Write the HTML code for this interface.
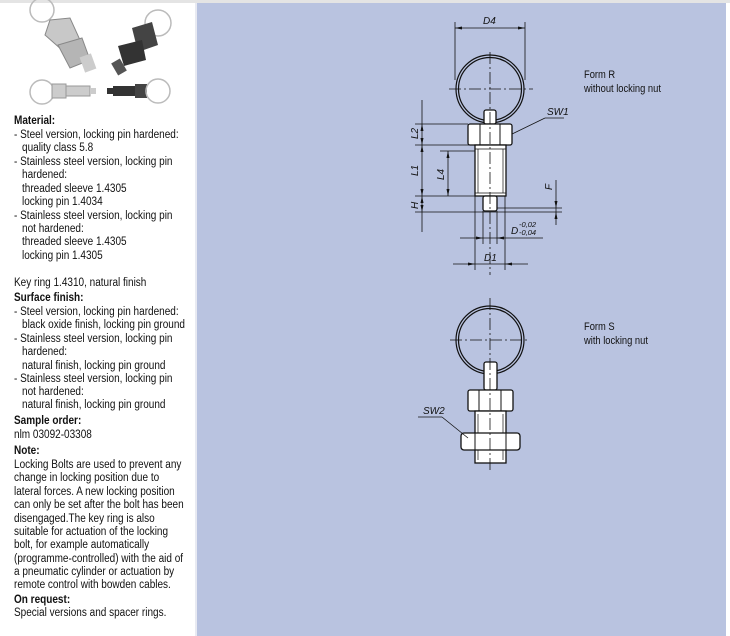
<!DOCTYPE html>
<html><head><meta charset="utf-8"><style>
body{margin:0;width:730px;height:636px;background:#fff;position:relative;overflow:hidden;font-family:"Liberation Sans",sans-serif;}
#top{position:absolute;left:0;top:0;width:730px;height:3px;background:#e4e4e4}
#blue{position:absolute;left:197px;top:3px;width:529px;height:633px;background:#b9c3e0}
#sep{position:absolute;left:195px;top:3px;width:2px;height:633px;background:#e8eaf2}
.t{position:absolute;left:14px;font-size:11.5px;line-height:13px;color:#111;white-space:nowrap;transform:scaleX(0.87);transform-origin:0 0;margin-top:2px}
.b{font-weight:bold}
.i{left:22px}
.r{position:absolute;font-size:11px;color:#111;white-space:nowrap;transform:scaleX(0.85);transform-origin:0 0;line-height:13px}
</style></head><body>
<div id="top"></div><div id="blue"></div><div id="sep"></div>
<svg width="197" height="115" style="position:absolute;left:0;top:0">
<circle cx="42" cy="10" r="12" fill="none" stroke="#bbb" stroke-width="1.5"/>
<polygon points="50,20 70,18 80,40 62,50 45,35" fill="#c8c8c8" stroke="#888"/>
<polygon points="58,45 82,38 90,60 70,68" fill="#b5b5b5" stroke="#888"/>
<rect x="82" y="55" width="12" height="16" fill="#ccc" transform="rotate(-20 88 63)"/>
<circle cx="158" cy="23" r="13" fill="none" stroke="#bbb" stroke-width="1.5"/>
<polygon points="132,28 152,22 158,45 138,52" fill="#444"/>
<polygon points="118,46 142,40 146,60 124,66" fill="#333"/>
<rect x="114" y="60" width="10" height="14" fill="#555" transform="rotate(-30 119 67)"/>
<circle cx="42" cy="92" r="12" fill="none" stroke="#bbb" stroke-width="1.5"/>
<rect x="52" y="84" width="14" height="14" fill="#ccc" stroke="#999"/>
<rect x="66" y="86" width="24" height="10" fill="#ccc" stroke="#999"/>
<rect x="90" y="88" width="6" height="6" fill="#ccc"/>
<rect x="107" y="88" width="6" height="6" fill="#333"/>
<rect x="113" y="86" width="22" height="10" fill="#333"/>
<rect x="135" y="84" width="12" height="14" fill="#444"/>
<circle cx="158" cy="91" r="12" fill="none" stroke="#bbb" stroke-width="1.5"/>
</svg>
<div class="t b" style="top:113px">Material:</div>
<div class="t" style="top:127px">- Steel version, locking pin hardened:</div>
<div class="t i" style="top:140px">quality class 5.8</div>
<div class="t" style="top:154px">- Stainless steel version, locking pin</div>
<div class="t i" style="top:167px">hardened:</div>
<div class="t i" style="top:181px">threaded sleeve 1.4305</div>
<div class="t i" style="top:194px">locking pin 1.4034</div>
<div class="t" style="top:208px">- Stainless steel version, locking pin</div>
<div class="t i" style="top:221px">not hardened:</div>
<div class="t i" style="top:234px">threaded sleeve 1.4305</div>
<div class="t i" style="top:248px">locking pin 1.4305</div>
<div class="t" style="top:275px">Key ring 1.4310, natural finish</div>
<div class="t b" style="top:290px">Surface finish:</div>
<div class="t" style="top:304px">- Steel version, locking pin hardened:</div>
<div class="t i" style="top:317px">black oxide finish, locking pin ground</div>
<div class="t" style="top:331px">- Stainless steel version, locking pin</div>
<div class="t i" style="top:344px">hardened:</div>
<div class="t i" style="top:358px">natural finish, locking pin ground</div>
<div class="t" style="top:371px">- Stainless steel version, locking pin</div>
<div class="t i" style="top:384px">not hardened:</div>
<div class="t i" style="top:397px">natural finish, locking pin ground</div>
<div class="t b" style="top:413px">Sample order:</div>
<div class="t" style="top:427px">nlm 03092-03308</div>
<div class="t b" style="top:443px">Note:</div>
<div class="t" style="top:457px">Locking Bolts are used to prevent any</div>
<div class="t" style="top:470px">change in locking position due to</div>
<div class="t" style="top:484px">lateral forces. A new locking position</div>
<div class="t" style="top:497px">can only be set after the bolt has been</div>
<div class="t" style="top:511px">disengaged.The key ring is also</div>
<div class="t" style="top:524px">suitable for actuation of the locking</div>
<div class="t" style="top:537px">bolt, for example automatically</div>
<div class="t" style="top:551px">(programme-controlled) with the aid of</div>
<div class="t" style="top:564px">a pneumatic cylinder or actuation by</div>
<div class="t" style="top:577px">remote control with bowden cables.</div>
<div class="t b" style="top:592px">On request:</div>
<div class="t" style="top:605px">Special versions and spacer rings.</div>

<div class="r" style="left:584px;top:69px">Form R</div>
<div class="r" style="left:584px;top:83px">without locking nut</div>
<div class="r" style="left:584px;top:321px">Form S</div>
<div class="r" style="left:584px;top:335px">with locking nut</div>

<svg width="730" height="636" style="position:absolute;left:0;top:0" fill="none" stroke="#111" stroke-width="1">
<g stroke-width="0.8">
<line x1="455" y1="22" x2="455" y2="80"/><line x1="525" y1="22" x2="525" y2="80"/>
<line x1="455" y1="28" x2="525" y2="28"/>
<line x1="422" y1="100" x2="422" y2="232"/>
<line x1="415" y1="124" x2="468" y2="124"/><line x1="415" y1="145" x2="475" y2="145"/>
<line x1="440" y1="151" x2="475" y2="151"/><line x1="448" y1="151" x2="448" y2="196"/>
<line x1="415" y1="196" x2="475" y2="196"/><line x1="415" y1="212" x2="562" y2="212"/>
<line x1="483" y1="208" x2="562" y2="208"/>
<line x1="556" y1="180" x2="556" y2="225"/>
<line x1="483" y1="211" x2="483" y2="244"/><line x1="497" y1="211" x2="497" y2="244"/>
<line x1="460" y1="238" x2="543" y2="238"/>
<line x1="475" y1="196" x2="475" y2="270"/><line x1="505" y1="196" x2="505" y2="270"/>
<line x1="453" y1="264" x2="528" y2="264"/>
<line x1="510" y1="135" x2="545" y2="118"/><line x1="545" y1="118" x2="564" y2="118"/>
<line x1="449" y1="89" x2="533" y2="89" stroke-dasharray="12 3 2 3"/>
<line x1="450" y1="340" x2="530" y2="340" stroke-dasharray="12 3 2 3"/>
<line x1="418" y1="417" x2="442" y2="417"/>
</g>
<g fill="#111" stroke="none">
<polygon points="455,28 462,26.5 462,29.5"/><polygon points="525,28 518,26.5 518,29.5"/>
<polygon points="422,124 420.5,131 423.5,131"/><polygon points="422,145 420.5,138 423.5,138"/>
<polygon points="422,145 420.5,152 423.5,152"/><polygon points="422,196 420.5,189 423.5,189"/>
<polygon points="422,196 420.5,203 423.5,203"/><polygon points="422,212 420.5,205 423.5,205"/>
<polygon points="448,151 446.5,158 449.5,158"/><polygon points="448,196 446.5,189 449.5,189"/>
<polygon points="556,208 554.5,201 557.5,201"/><polygon points="556,212 554.5,219 557.5,219"/>
<polygon points="483,238 476,236.5 476,239.5"/><polygon points="497,238 504,236.5 504,239.5"/>
<polygon points="475,264 468,262.5 468,265.5"/><polygon points="505,264 512,262.5 512,265.5"/>
</g>
<circle cx="490" cy="89" r="34" stroke-width="1.2"/><circle cx="490" cy="89" r="31.5" stroke-width="1.2"/>
<rect x="484" y="110" width="12" height="14" rx="2" fill="#fff" stroke-width="1.3"/>
<rect x="468" y="124" width="44" height="21" rx="2" fill="#fff" stroke-width="1.3"/>
<line x1="480" y1="124" x2="480" y2="145"/><line x1="500" y1="124" x2="500" y2="145"/>
<rect x="475" y="145" width="31" height="51" fill="#fff" stroke-width="1.3"/>
<line x1="478" y1="149" x2="478" y2="193" stroke-width="0.7"/><line x1="503" y1="149" x2="503" y2="193" stroke-width="0.7"/>
<line x1="475" y1="149" x2="506" y2="149" stroke-width="0.7"/><line x1="475" y1="193" x2="506" y2="193" stroke-width="0.7"/>
<rect x="483" y="196" width="14" height="15" rx="2" fill="#fff" stroke-width="1.3"/>
<line x1="490" y1="52" x2="490" y2="275" stroke-width="0.8" stroke-dasharray="12 3 2 3"/>
<circle cx="490" cy="340" r="34" stroke-width="1.2"/><circle cx="490" cy="340" r="31.5" stroke-width="1.2"/>
<rect x="484" y="362" width="13" height="28" rx="2" fill="#fff" stroke-width="1.3"/>
<rect x="468" y="390" width="45" height="21" rx="2" fill="#fff" stroke-width="1.3"/>
<line x1="479" y1="390" x2="479" y2="411"/><line x1="501" y1="390" x2="501" y2="411"/>
<rect x="475" y="411" width="31" height="52" fill="#fff" stroke-width="1.3"/>
<line x1="478" y1="414" x2="478" y2="460" stroke-width="0.7"/><line x1="503" y1="414" x2="503" y2="460" stroke-width="0.7"/>
<rect x="461" y="433" width="59" height="17" rx="3" fill="#fff" stroke-width="1.3"/>
<line x1="475" y1="433" x2="475" y2="450"/><line x1="506" y1="433" x2="506" y2="450"/>
<line x1="490" y1="298" x2="490" y2="473" stroke-width="0.8" stroke-dasharray="12 3 2 3"/>
<line x1="442" y1="417" x2="468" y2="438" stroke-width="0.8"/>
<g fill="#111" stroke="none" font-family="Liberation Sans,sans-serif" font-style="italic" font-size="10">
<text x="483" y="24">D4</text>
<text x="547" y="115">SW1</text>
<text x="484" y="261">D1</text>
<text x="511" y="234">D</text>
<text x="519" y="227" font-size="7.5">-0,02</text>
<text x="519" y="235" font-size="7.5">-0,04</text>
<text x="423" y="414">SW2</text>
<text transform="translate(418,139) rotate(-90)">L2</text>
<text transform="translate(418,176) rotate(-90)">L1</text>
<text transform="translate(418,209) rotate(-90)">H</text>
<text transform="translate(444,180) rotate(-90)">L4</text>
<text transform="translate(552,190) rotate(-90)">F</text>
</g>
</svg>
</body></html>
